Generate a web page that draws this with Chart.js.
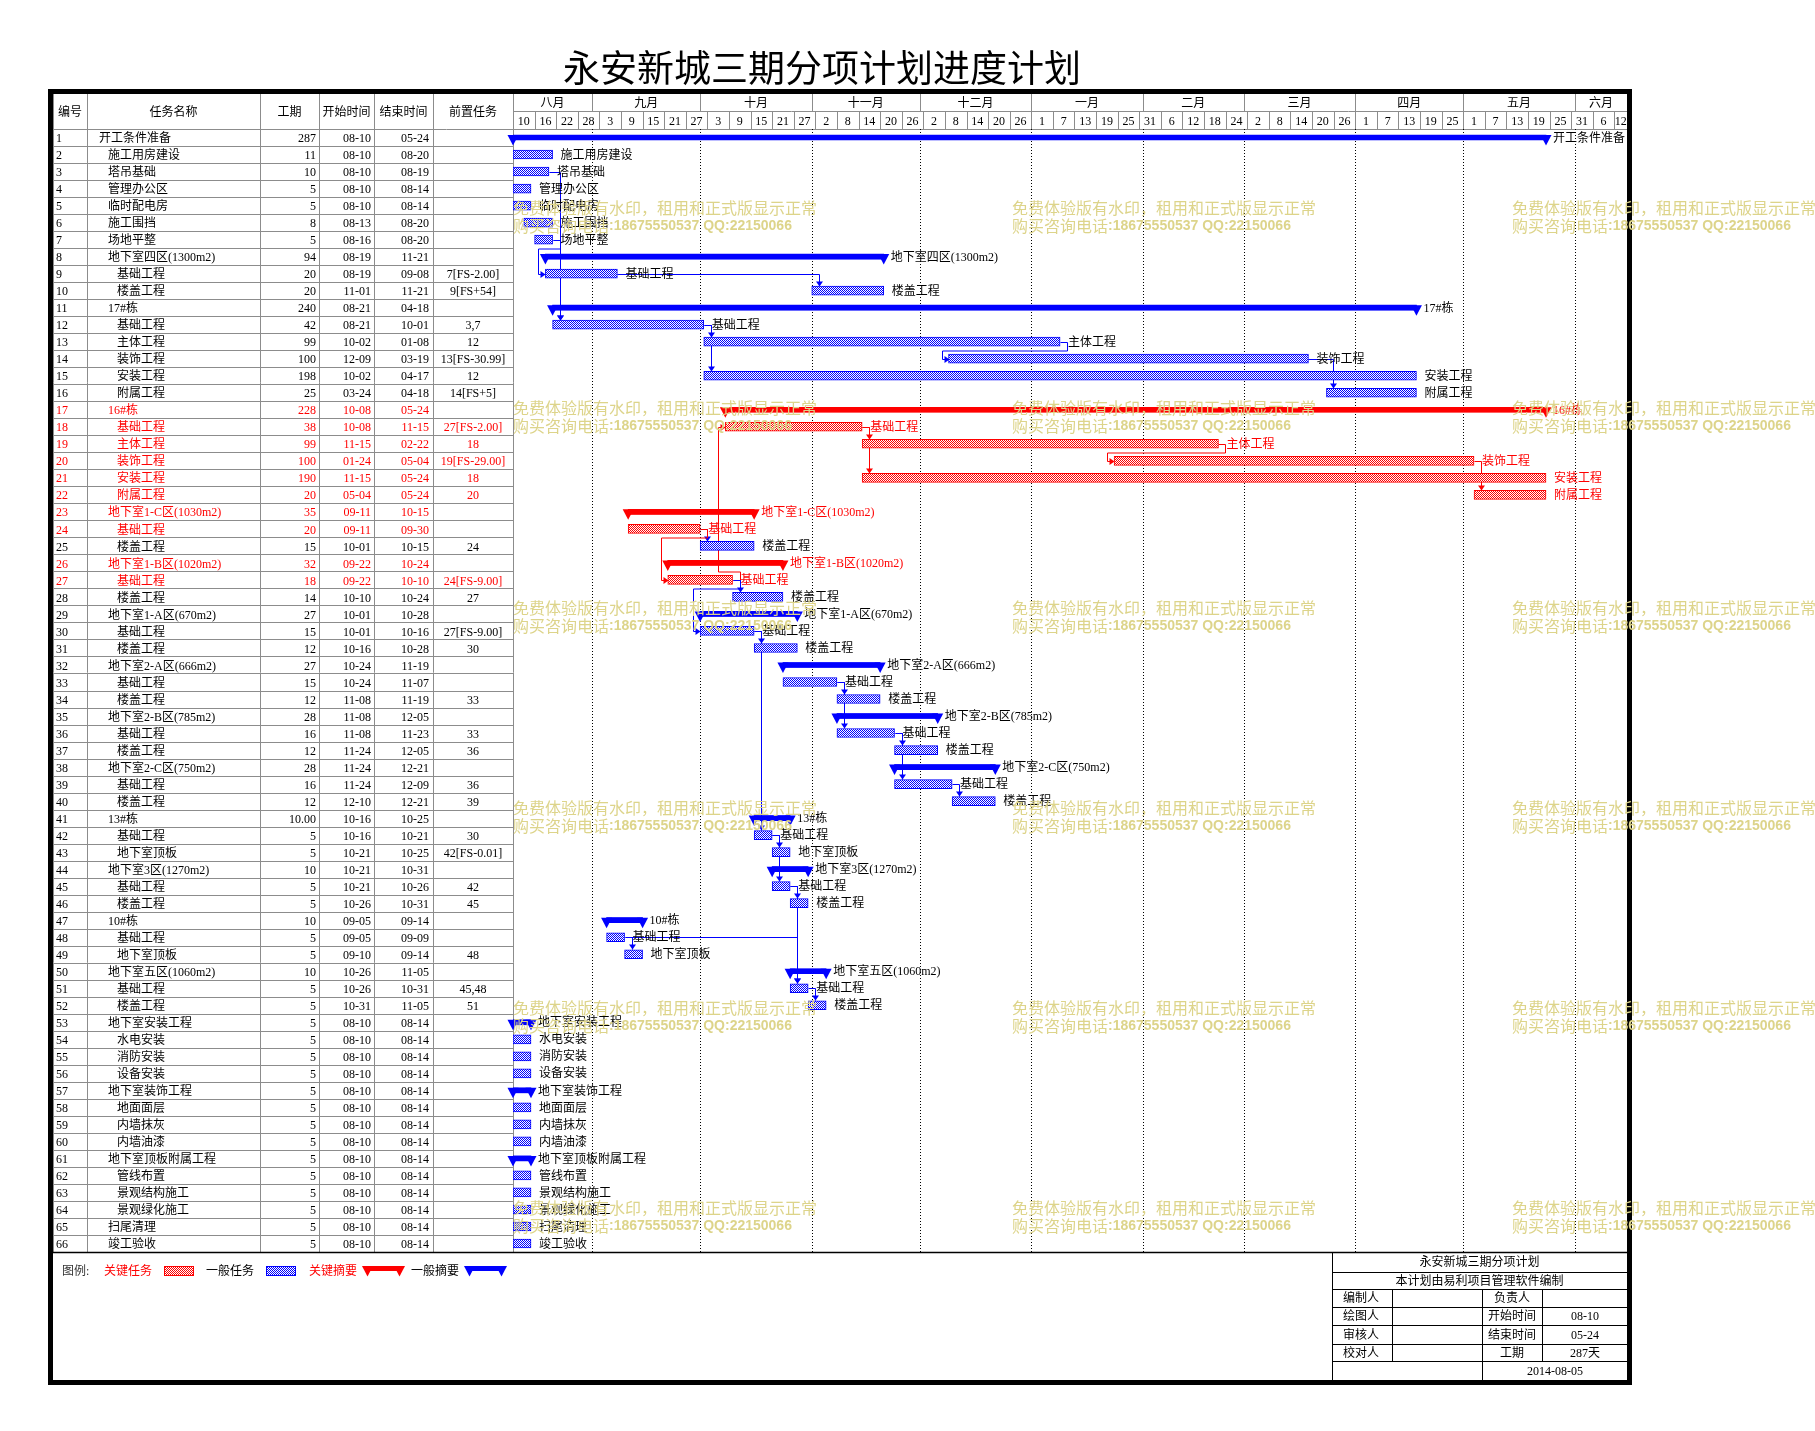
<!DOCTYPE html>
<html><head><meta charset="utf-8">
<script src="https://cdn.jsdelivr.net/npm/chart.js@4/dist/chart.umd.min.js"></script>
<style>html,body{margin:0;padding:0;background:#fff;}#wrap{width:1815px;height:1431px;}</style>
</head><body><div id="wrap"><canvas id="c" width="1815" height="1431"></canvas></div>
<script>
// ---------------- DATA ----------------
const chartTitle = '永安新城三期分项计划进度计划';
const tableHeaders = ['编号','任务名称','工期','开始时间','结束时间','前置任务'];
const taskIds = Array.from({length:66},(_,i)=>i+1);
const taskNames = ['开工条件准备','施工用房建设','塔吊基础','管理办公区','临时配电房','施工围挡','场地平整','地下室四区(1300m2)','基础工程','楼盖工程',
 '17#栋','基础工程','主体工程','装饰工程','安装工程','附属工程','16#栋','基础工程','主体工程','装饰工程',
 '安装工程','附属工程','地下室1-C区(1030m2)','基础工程','楼盖工程','地下室1-B区(1020m2)','基础工程','楼盖工程','地下室1-A区(670m2)','基础工程',
 '楼盖工程','地下室2-A区(666m2)','基础工程','楼盖工程','地下室2-B区(785m2)','基础工程','楼盖工程','地下室2-C区(750m2)','基础工程','楼盖工程',
 '13#栋','基础工程','地下室顶板','地下室3区(1270m2)','基础工程','楼盖工程','10#栋','基础工程','地下室顶板','地下室五区(1060m2)',
 '基础工程','楼盖工程','地下室安装工程','水电安装','消防安装','设备安装','地下室装饰工程','地面面层','内墙抹灰','内墙油漆',
 '地下室顶板附属工程','管线布置','景观结构施工','景观绿化施工','扫尾清理','竣工验收'];
const durations = ['287','11','10','5','5','8','5','94','20','20',
 '240','42','99','100','198','25','228','38','99','100',
 '190','20','35','20','15','32','18','14','27','15',
 '12','27','15','12','28','16','12','28','16','12',
 '10.00','5','5','10','5','5','10','5','5','10',
 '5','5','5','5','5','5','5','5','5','5',
 '5','5','5','5','5','5'];
const startDates = ['08-10','08-10','08-10','08-10','08-10','08-13','08-16','08-19','08-19','11-01',
 '08-21','08-21','10-02','12-09','10-02','03-24','10-08','10-08','11-15','01-24',
 '11-15','05-04','09-11','09-11','10-01','09-22','09-22','10-10','10-01','10-01',
 '10-16','10-24','10-24','11-08','11-08','11-08','11-24','11-24','11-24','12-10',
 '10-16','10-16','10-21','10-21','10-21','10-26','09-05','09-05','09-10','10-26',
 '10-26','10-31','08-10','08-10','08-10','08-10','08-10','08-10','08-10','08-10',
 '08-10','08-10','08-10','08-10','08-10','08-10'];
const endDates = ['05-24','08-20','08-19','08-14','08-14','08-20','08-20','11-21','09-08','11-21',
 '04-18','10-01','01-08','03-19','04-17','04-18','05-24','11-15','02-22','05-04',
 '05-24','05-24','10-15','09-30','10-15','10-24','10-10','10-24','10-28','10-16',
 '10-28','11-19','11-07','11-19','12-05','11-23','12-05','12-21','12-09','12-21',
 '10-25','10-21','10-25','10-31','10-26','10-31','09-14','09-09','09-14','11-05',
 '10-31','11-05','08-14','08-14','08-14','08-14','08-14','08-14','08-14','08-14',
 '08-14','08-14','08-14','08-14','08-14','08-14'];
const predecessors = ['','','','','','','','','7[FS-2.00]','9[FS+54]',
 '','3,7','12','13[FS-30.99]','12','14[FS+5]','','27[FS-2.00]','18','19[FS-29.00]',
 '18','20','','','24','','24[FS-9.00]','27','','27[FS-9.00]',
 '30','','','33','','33','36','','36','39',
 '','30','42[FS-0.01]','','42','45','','','48','',
 '45,48','51','','','','','','','','',
 '','','','','',''];
const levels = [1,2,2,2,2,2,2,2,3,3, 2,3,3,3,3,3,2,3,3,3, 3,3,2,3,3,2,3,3,2,3,
 3,2,3,3,2,3,3,2,3,3, 2,3,3,2,3,3,2,3,3,2, 3,3,2,3,3,3,2,3,3,3, 2,3,3,3,2,2];
const summaryRows = [1,8,11,17,23,26,29,32,35,38,41,44,47,50,53,57,61];
const criticalRows = [17,18,19,20,21,22,23,24,26,27];
const monthLabels = ['八月','九月','十月','十一月','十二月','一月','二月','三月','四月','五月','六月'];
const monthStarts = ['08-10','09-01','10-01','11-01','12-01','01-01','02-01','03-01','04-01','05-01','06-01'];
const dayTickLabels = [10,16,22,28,3,9,15,21,27,3,9,15,21,27,2,8,14,20,26,2,8,14,20,26,1,7,13,19,25,31,6,12,18,24,2,8,14,20,26,1,7,13,19,25,1,7,13,19,25,31,6,12];
const dayTickStep = 6;
const legendItems = ['关键任务','一般任务','关键摘要','一般摘要'];
const blockTitle = ['永安新城三期分项计划','本计划由易利项目管理软件编制'];
const blockLeft = ['编制人','绘图人','审核人','校对人'];
const blockMidLabels = ['负责人','开始时间','结束时间','工期'];
const blockMidValues = ['','08-10','05-24','287天'];
const blockDate = '2014-08-05';
const watermarkLine1 = '免费体验版有水印，租用和正式版显示正常';
const watermarkLine2a = '购买咨询电话';
const watermarkLine2b = ':18675550537 QQ:22150066';

// ---------------- HELPERS ----------------
const BASE = Date.UTC(2014,7,10);
function dayOf(md){const [m,d]=md.split('-').map(Number);const y=m>=8?2014:2015;return (Date.UTC(y,m-1,d)-BASE)/86400000;}
const startVals = startDates.map(dayOf);
const endVals = startVals.map((s,i)=>s+parseFloat(durations[i]));
const isSummary = id=>summaryRows.includes(id);
const isCritical = id=>criticalRows.includes(id);
function series(f){return taskIds.map((id,i)=>f(id)?[startVals[i],endVals[i]]:null);}
const BLUE='#0000ff', RED='#ff0000', GRID='#8c8c8c', WM='#ddd48a';
const F12='12px "Liberation Serif", "Noto Sans CJK SC", sans-serif';
const canvas=document.getElementById('c');
const mainCtx=canvas.getContext('2d');
function checker(color){const c=document.createElement('canvas');c.width=2;c.height=2;const x=c.getContext('2d');x.fillStyle='#fff';x.fillRect(0,0,2,2);x.fillStyle=color;x.fillRect(0,0,1,1);x.fillRect(1,1,1,1);return mainCtx.createPattern(c,'repeat');}
const bluePat=checker(BLUE), redPat=checker(RED);

function line(ctx,x1,y1,x2,y2){ctx.beginPath();ctx.moveTo(x1,y1);ctx.lineTo(x2,y2);ctx.stroke();}
function summaryGlyph(ctx,x0,x1,top,color){
  ctx.fillStyle=color;ctx.fillRect(x0,top,x1-x0,5);
  [x0,x1].forEach(x=>{ctx.beginPath();ctx.moveTo(x-5.5,top);ctx.lineTo(x+5.5,top);ctx.lineTo(x,top+10.5);ctx.closePath();ctx.fill();});
}
function arrow(ctx,x,y,dx,dy){
  ctx.beginPath();
  if(dx){ctx.moveTo(x,y);ctx.lineTo(x-dx*5,y-3.5);ctx.lineTo(x-dx*5,y+3.5);}
  else {ctx.moveTo(x,y);ctx.lineTo(x-3.5,y-dy*5);ctx.lineTo(x+3.5,y-dy*5);}
  ctx.closePath();ctx.fill();
}

const cols=[53,87,260,319,374,433,513];
const HEAD_TOP=93, MONTH_BOTTOM=111;

const ganttPlugin={
 id:'gantt',
 beforeDraw(chart){
  const {ctx,chartArea:ca,scales:{x:xs,y:ys}}=chart;
  const rowH=ca.height/taskIds.length;
  ctx.save();
  ctx.fillStyle='#fff';ctx.fillRect(0,0,chart.width,chart.height);
  ctx.fillStyle='#000';ctx.font='37px "Noto Sans CJK SC", sans-serif';ctx.textAlign='center';ctx.textBaseline='middle';
  ctx.fillText(chartTitle,822,68);
  ctx.strokeStyle=GRID;ctx.lineWidth=1;
  for(let k=0;k<taskIds.length;k++){const y=Math.round(ca.top+k*rowH)+0.5;line(ctx,cols[0],y,k===0?ca.right:cols[6],y);}
  cols.forEach(c=>line(ctx,c+0.5,HEAD_TOP,c+0.5,ca.bottom));
  line(ctx,ca.left,MONTH_BOTTOM+0.5,ca.right,MONTH_BOTTOM+0.5);
  const mPix=monthStarts.map(m=>xs.getPixelForValue(dayOf(m)));
  mPix.forEach((x,i)=>{if(i>0)line(ctx,Math.round(x)+0.5,HEAD_TOP,Math.round(x)+0.5,MONTH_BOTTOM);});
  for(let k=1;k<dayTickLabels.length;k++){const x=Math.round(xs.getPixelForValue(k*dayTickStep))+0.5;line(ctx,x,MONTH_BOTTOM,x,ca.top);}
  ctx.fillStyle='#000';ctx.font=F12;ctx.textAlign='center';ctx.textBaseline='middle';
  tableHeaders.forEach((h,i)=>ctx.fillText(h,(cols[i]+cols[i+1])/2,113));
  monthLabels.forEach((m,i)=>{const a=mPix[i],b=i+1<mPix.length?mPix[i+1]:ca.right;ctx.fillText(m,(a+b)/2,104);});
  dayTickLabels.forEach((d,k)=>{const a=xs.getPixelForValue(k*dayTickStep),b=Math.min(xs.getPixelForValue((k+1)*dayTickStep),ca.right);ctx.fillText(String(d),(a+b)/2,121.5);});
  ctx.strokeStyle='#000';ctx.setLineDash([1,2]);
  mPix.forEach((x,i)=>{if(i>0)line(ctx,Math.round(x)+0.5,ca.top,Math.round(x)+0.5,ca.bottom);});
  ctx.setLineDash([]);
  taskIds.forEach((id,i)=>{
   const y=ys.getPixelForValue(i)+1.5;
   ctx.fillStyle=isCritical(id)?RED:'#000';
   ctx.textAlign='left';ctx.fillText(String(id),56,y);
   ctx.fillText(taskNames[i],90+levels[i]*9,y);
   ctx.textAlign='right';ctx.fillText(durations[i],316,y);ctx.fillText(startDates[i],371,y);ctx.fillText(endDates[i],429,y);
   ctx.textAlign='center';ctx.fillText(predecessors[i],473,y);
  });
  ctx.strokeStyle='#000';ctx.lineWidth=1.5;line(ctx,48,ca.bottom+0.5,1632,ca.bottom+0.5);
  const ly=1272;ctx.textAlign='left';ctx.lineWidth=1;
  ctx.fillStyle='#333';ctx.fillText('图例:',62,ly);
  ctx.fillStyle=RED;ctx.fillText(legendItems[0],104,ly);
  ctx.fillStyle=redPat;ctx.fillRect(164,1266.5,30,9);ctx.strokeStyle=RED;ctx.strokeRect(164.5,1266.5,29,9);
  ctx.fillStyle='#000';ctx.fillText(legendItems[1],206,ly);
  ctx.fillStyle=bluePat;ctx.fillRect(266,1266.5,30,9);ctx.strokeStyle=BLUE;ctx.strokeRect(266.5,1266.5,29,9);
  ctx.fillStyle=RED;ctx.fillText(legendItems[2],309,ly);
  summaryGlyph(ctx,367.5,399.5,1266,RED);
  ctx.fillStyle='#000';ctx.fillText(legendItems[3],411,ly);
  summaryGlyph(ctx,469.5,501.5,1266,BLUE);
  ctx.strokeStyle='#000';ctx.lineWidth=1;
  const bx0=1332,bx1=1627,rows=[1252,1272,1289,1307,1325,1344,1361,1380];
  line(ctx,bx0+0.5,rows[0],bx0+0.5,rows[7]);
  for(let r=1;r<7;r++)line(ctx,bx0,rows[r]+0.5,bx1,rows[r]+0.5);
  line(ctx,1392.5,rows[2],1392.5,rows[6]);line(ctx,1542.5,rows[2],1542.5,rows[6]);line(ctx,1482.5,rows[2],1482.5,rows[7]);
  ctx.fillStyle='#000';ctx.textAlign='center';
  ctx.fillText(blockTitle[0],(bx0+bx1)/2,(rows[0]+rows[1])/2+1);
  ctx.fillText(blockTitle[1],(bx0+bx1)/2,(rows[1]+rows[2])/2+1);
  for(let r=0;r<4;r++){const y=(rows[r+2]+rows[r+3])/2+1;
   ctx.textAlign='left';ctx.fillText(blockLeft[r],1343,y);
   ctx.textAlign='center';ctx.fillText(blockMidLabels[r],1512,y);ctx.fillText(blockMidValues[r],1585,y);}
  ctx.fillText(blockDate,1555,(rows[6]+rows[7])/2+1);
  ctx.restore();
 },
 beforeDatasetsDraw(chart){
  const {ctx,scales:{x:xs,y:ys}}=chart;
  ctx.save();ctx.lineWidth=1;
  taskIds.forEach((id,i)=>{
   if(!predecessors[i])return;
   predecessors[i].split(',').map(p=>parseInt(p,10)).forEach(p=>{
    const j=p-1;
    const col=(isCritical(id)&&isCritical(p))?RED:BLUE;
    ctx.strokeStyle=col;ctx.fillStyle=col;
    const x1=Math.round(xs.getPixelForValue(endVals[j]))+0.5,y1=Math.round(ys.getPixelForValue(j))+0.5;
    const x2=Math.round(xs.getPixelForValue(startVals[i]))+0.5,y2=Math.round(ys.getPixelForValue(i))+0.5;
    const dir=y2>y1?1:-1;
    ctx.beginPath();
    if(x2+7>=x1+3){
     const xv=x2+7,ye=y2-dir*5;
     ctx.moveTo(x1,y1);ctx.lineTo(xv,y1);ctx.lineTo(xv,ye);ctx.stroke();
     arrow(ctx,xv,ye,0,dir);
    } else {
     const xh=x1+7,yb=y1+dir*8.5;
     ctx.moveTo(x1,y1);ctx.lineTo(xh,y1);ctx.lineTo(xh,yb);ctx.lineTo(x2-7,yb);ctx.lineTo(x2-7,y2);ctx.lineTo(x2,y2);ctx.stroke();
     arrow(ctx,x2,y2,1,0);
    }
   });
  });
  ctx.restore();
 },
 afterDatasetsDraw(chart){
  const {ctx,scales:{x:xs,y:ys}}=chart;
  ctx.save();
  [2,3].forEach(di=>{
   const meta=chart.getDatasetMeta(di),ds=chart.data.datasets[di];
   meta.data.forEach((el,i)=>{
    if(!ds.data[i])return;
    const p=el.getProps(['x','y','base','height'],true);
    summaryGlyph(ctx,p.base,p.x,p.y-p.height/2,di===3?RED:BLUE);
   });
  });
  ctx.font=F12;ctx.textAlign='left';ctx.textBaseline='middle';
  taskIds.forEach((id,i)=>{
   const xe=xs.getPixelForValue(endVals[i]),y=ys.getPixelForValue(i)+1;
   ctx.fillStyle=isCritical(id)?RED:'#000';
   ctx.fillText(taskNames[i],xe+(isSummary(id)?7:8),y);
  });
  ctx.restore();
 },
 afterDraw(chart){
  const {ctx}=chart;
  ctx.save();
  ctx.strokeStyle='#000';ctx.lineWidth=5;ctx.strokeRect(50.5,91.5,1579,1291);
  ctx.fillStyle=WM;ctx.textAlign='left';ctx.textBaseline='middle';
  [513,1012,1512].forEach(x=>{
   for(let k=0;k<6;k++){
    const y=208+k*200;
    ctx.font='16px "Noto Sans CJK SC", sans-serif';
    ctx.fillText(watermarkLine1,x,y);
    ctx.fillText(watermarkLine2a,x,y+18);
    const w=ctx.measureText(watermarkLine2a).width;
    ctx.font='bold 14px "Liberation Sans", sans-serif';
    ctx.fillText(watermarkLine2b,x+w,y+18);
   }
  });
  ctx.restore();
 }
};

new Chart(canvas,{
 type:'bar',
 data:{labels:taskIds.map(String),datasets:[
  {label:'一般任务',data:series(id=>!isSummary(id)&&!isCritical(id)),backgroundColor:bluePat,borderColor:BLUE,borderWidth:1,borderSkipped:false,barThickness:9,grouped:false},
  {label:'关键任务',data:series(id=>!isSummary(id)&&isCritical(id)),backgroundColor:redPat,borderColor:RED,borderWidth:1,borderSkipped:false,barThickness:9,grouped:false},
  {label:'一般摘要',data:series(id=>isSummary(id)&&!isCritical(id)),backgroundColor:BLUE,borderWidth:0,barThickness:5,grouped:false},
  {label:'关键摘要',data:series(id=>isSummary(id)&&isCritical(id)),backgroundColor:RED,borderWidth:0,barThickness:5,grouped:false}
 ]},
 options:{responsive:false,animation:false,events:[],indexAxis:'y',
  layout:{padding:{left:513,right:188,top:129,bottom:179}},
  scales:{x:{type:'linear',min:0,max:309.5,display:false},y:{type:'category',display:false,offset:true}},
  plugins:{legend:{display:false},tooltip:{enabled:false},title:{display:false}}},
 plugins:[ganttPlugin]
});
</script></body></html>
